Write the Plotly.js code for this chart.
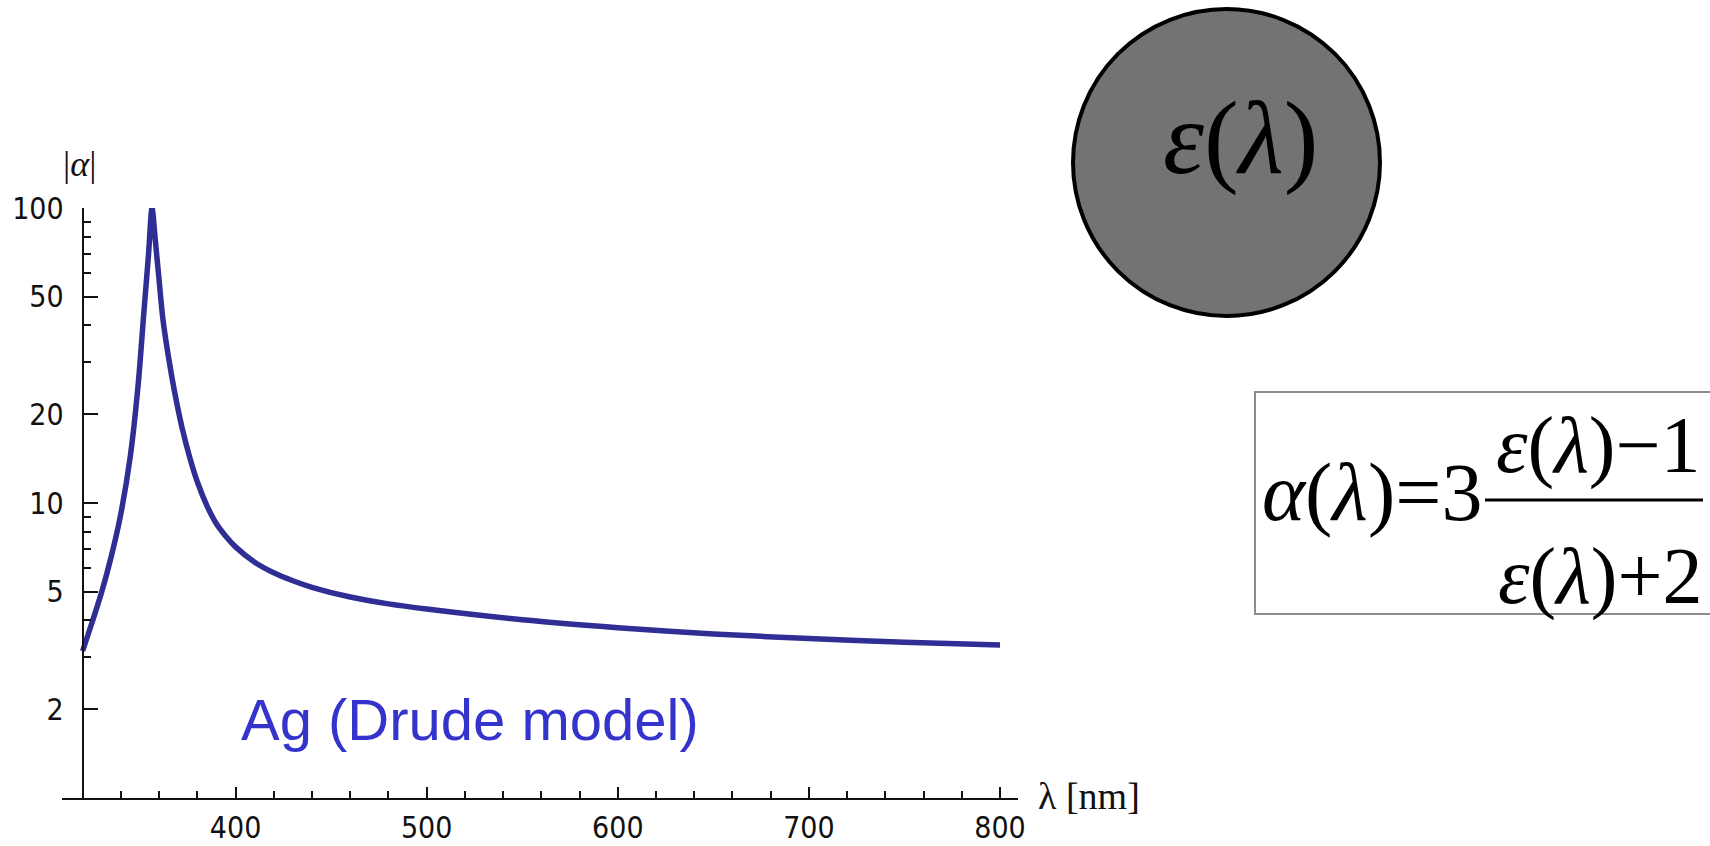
<!DOCTYPE html>
<html>
<head>
<meta charset="utf-8">
<script src="https://cdn.plot.ly/plotly-3.0.1.min.js"></script>
<style>html,body{margin:0;padding:0;background:#fff;}#chart{width:1710px;height:846px;}</style>
</head>
<body>
<div id="chart"></div>
<script>
// wavelength (nm) and |alpha|
const lambdaNm = [320, 325, 330, 335, 340, 345, 349, 352, 354.5, 356.3, 358, 360, 362, 365, 368, 372, 376, 380, 385, 390, 395, 400, 410, 420, 430, 440, 460, 480, 500, 550, 600, 650, 700, 750, 800];
const alphaAbs = [3.15, 3.95, 5.0, 6.6, 9.2, 14.5, 25, 44, 70, 100, 78, 57, 42, 31, 24, 18, 14.3, 11.8, 9.8, 8.5, 7.7, 7.1, 6.3, 5.8, 5.45, 5.18, 4.8, 4.55, 4.37, 4.02, 3.78, 3.6, 3.47, 3.37, 3.3];

const xTickVals = [400, 500, 600, 700, 800];
const xMinorVals = [340, 360, 380, 420, 440, 460, 480, 520, 540, 560, 580, 620, 640, 660, 680, 720, 740, 760, 780];
const yTickVals = [2, 5, 10, 20, 50, 100];
const yTickText = ['2', '5', '10', '20', '50', '100'];
const yMinorVals = [3, 4, 6, 7, 8, 9, 30, 40, 60, 70, 80, 90];

const seriesLabel = 'Ag (Drude model)';
const xAxisLabel = 'λ [nm]';
const yAxisLabel = '|<i>α</i>|';

// layout geometry (pixels)
const W = 1710, H = 846, L = 62, R = 1018, T = 208, B = 798;
const px = x => (x - L) / (R - L);
const py = y => (B - y) / (B - T);

const tickFont = {family: '"Liberation Sans Narrow", "DejaVu Sans Condensed", "Liberation Sans", sans-serif', size: 30, color: '#111'};
const serif = '"Liberation Serif", "DejaVu Serif", serif';

const trace = {
  x: lambdaNm, y: alphaAbs, type: 'scatter', mode: 'lines',
  line: {color: 'rgb(46,46,148)', width: 5.5, shape: 'spline', smoothing: 0.8},
  hoverinfo: 'skip'
};

const layout = {
  width: W, height: H,
  margin: {l: L, r: W - R, t: T, b: H - B, pad: 0},
  paper_bgcolor: '#fff', plot_bgcolor: '#fff',
  showlegend: false,
  xaxis: {
    range: [309.2, 809.4], showgrid: false, zeroline: false,
    showline: true, linecolor: '#111', linewidth: 2,
    ticks: 'inside', ticklen: 11, tickwidth: 2, tickcolor: '#111',
    tickmode: 'array', tickvals: xTickVals, ticktext: xTickVals.map(String),
    tickfont: tickFont, ticklabelstandoff: 2,
    minor: {tickmode: 'array', tickvals: xMinorVals, ticks: 'inside', ticklen: 7, tickwidth: 2, tickcolor: '#111', showgrid: false}
  },
  yaxis: {
    type: 'log', range: [0, 2], anchor: 'free', position: px(82.7),
    showgrid: false, zeroline: false,
    showline: true, linecolor: '#111', linewidth: 2,
    ticks: 'inside', ticklen: 14, tickwidth: 2, tickcolor: '#111',
    tickmode: 'array', tickvals: yTickVals, ticktext: yTickText,
    tickfont: tickFont, ticklabelstandoff: 12,
    minor: {tickmode: 'array', tickvals: yMinorVals, ticks: 'inside', ticklen: 7, tickwidth: 2, tickcolor: '#111', showgrid: false}
  },
  shapes: [
    {type: 'circle', xref: 'paper', yref: 'paper', x0: px(1073), x1: px(1380), y0: py(316), y1: py(9),
     fillcolor: '#737373', line: {color: '#000', width: 4}, layer: 'above'},
    {type: 'rect', xref: 'paper', yref: 'paper', x0: px(1255), x1: px(1712), y0: py(614), y1: py(392),
     fillcolor: '#fff', line: {color: '#8c8c8c', width: 2}, layer: 'above'},
    {type: 'line', xref: 'paper', yref: 'paper', x0: px(1485), x1: px(1703), y0: py(500), y1: py(500),
     line: {color: '#000', width: 3}, layer: 'above'}
  ],
  annotations: [
    {xref: 'paper', yref: 'paper', x: px(79), y: py(164), text: yAxisLabel, showarrow: false,
     xanchor: 'center', yanchor: 'middle', font: {family: serif, size: 36, color: '#111'}},
    {xref: 'paper', yref: 'paper', x: px(1036), y: py(796), text: xAxisLabel, showarrow: false,
     xanchor: 'left', yanchor: 'middle', font: {family: serif, size: 38, color: '#111'}},
    {xref: 'paper', yref: 'paper', x: px(470), y: py(719), text: seriesLabel, showarrow: false,
     xanchor: 'center', yanchor: 'middle', font: {family: '"Liberation Sans", Arial, sans-serif', size: 58, color: 'rgb(52,52,204)'}},
    {xref: 'paper', yref: 'paper', x: px(1240), y: py(138), text: '<i>ε</i>(<i>λ</i>)', showarrow: false,
     xanchor: 'center', yanchor: 'middle', font: {family: serif, size: 104, color: '#000'}},
    {xref: 'paper', yref: 'paper', x: px(1484), y: py(492), text: '<i>α</i>(<i>λ</i>)=3', showarrow: false,
     xanchor: 'right', yanchor: 'middle', font: {family: serif, size: 82, color: '#000'}},
    {xref: 'paper', yref: 'paper', x: px(1598), y: py(445), text: '<i>ε</i>(<i>λ</i>)−1', showarrow: false,
     xanchor: 'center', yanchor: 'middle', font: {family: serif, size: 80, color: '#000'}},
    {xref: 'paper', yref: 'paper', x: px(1600), y: py(576), text: '<i>ε</i>(<i>λ</i>)+2', showarrow: false,
     xanchor: 'center', yanchor: 'middle', font: {family: serif, size: 80, color: '#000'}}
  ]
};

Plotly.newPlot('chart', [trace], layout, {displayModeBar: false, staticPlot: true});
</script>
</body>
</html>
